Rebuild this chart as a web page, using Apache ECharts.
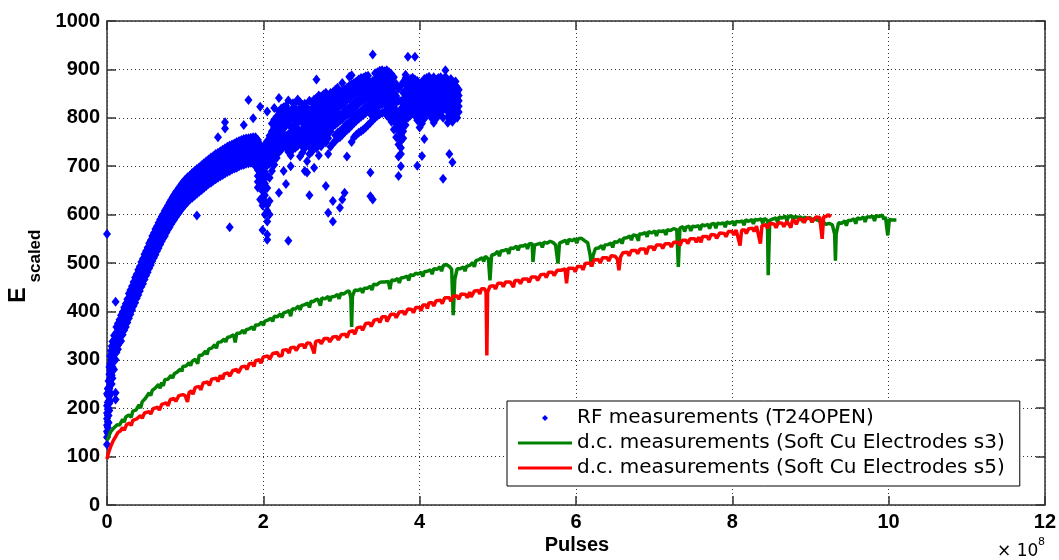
<!DOCTYPE html>
<html>
<head>
<meta charset="utf-8">
<script src="https://cdn.jsdelivr.net/npm/echarts@6/dist/echarts.min.js"></script>
<style>
  html, body { margin: 0; padding: 0; background: #fff; }
  #chart { width: 1059px; height: 560px; }
</style>
</head>
<body>
<div id="chart"></div>
<script>
// pulses are in units of 1e8
const xTicks = [0, 2, 4, 6, 8, 10, 12];
const yTicks = [0, 100, 200, 300, 400, 500, 600, 700, 800, 900, 1000];

const seriesNames = [
    'RF measurements (T24OPEN)',
    'd.c. measurements (Soft Cu Electrodes s3)',
    'd.c. measurements (Soft Cu Electrodes s5)'
];

// RF scatter, read column by column: [pulses, [E values...]]
const rfColumns = [
    [0.00, [125, 140, 152, 165, 178, 190, 205, 230, 560]],
    [0.01, [148, 160, 172, 185, 198, 212, 226, 240]],
    [0.02, [170, 185, 200, 215, 228, 242, 256]],
    [0.03, [195, 210, 225, 240, 255, 270, 285]],
    [0.04, [215, 232, 248, 262, 278, 292, 308]],
    [0.05, [230, 250, 268, 285, 300, 318]],
    [0.06, [250, 268, 290, 310, 328]],
    [0.07, [262, 285, 305, 322, 338]],
    [0.09, [280, 300, 318, 335, 350]],
    [0.11, [218, 232, 300, 318, 336, 352, 420]],
    [0.12, [315, 333, 341, 356, 368]],
    [0.14, [322, 330, 347, 363, 375]],
    [0.16, [336, 349, 357, 371, 383]],
    [0.18, [339, 355, 368, 376, 392]],
    [0.20, [352, 366, 372, 388, 399]],
    [0.22, [361, 370, 384, 397, 408]],
    [0.24, [368, 383, 391, 405, 416]],
    [0.26, [377, 389, 403, 414, 425]],
    [0.28, [386, 398, 409, 421, 437]],
    [0.30, [394, 409, 418, 432, 444]],
    [0.32, [403, 413, 428, 441, 452]],
    [0.34, [411, 425, 434, 449, 461]],
    [0.36, [418, 430, 445, 456, 470]],
    [0.38, [427, 440, 452, 466, 477]],
    [0.40, [434, 449, 461, 472, 486]],
    [0.42, [442, 455, 470, 482, 493]],
    [0.44, [451, 463, 476, 489, 502]],
    [0.46, [457, 472, 485, 497, 509]],
    [0.48, [466, 479, 493, 504, 518]],
    [0.50, [474, 488, 499, 513, 525]],
    [0.52, [481, 494, 508, 521, 532]],
    [0.54, [489, 503, 515, 528, 541]],
    [0.56, [496, 510, 523, 536, 547]],
    [0.58, [504, 516, 531, 543, 556]],
    [0.60, [511, 525, 537, 551, 562]],
    [0.62, [517, 531, 545, 557, 570]],
    [0.64, [525, 538, 551, 565, 576]],
    [0.66, [531, 545, 559, 571, 583]],
    [0.68, [538, 551, 565, 578, 590]],
    [0.70, [545, 558, 572, 584, 585, 596]],
    [0.72, [551, 565, 577, 591, 601]],
    [0.74, [556, 571, 584, 596, 608]],
    [0.76, [563, 576, 590, 602, 613]],
    [0.78, [569, 582, 595, 608, 619]],
    [0.80, [574, 588, 601, 613, 625]],
    [0.82, [580, 593, 606, 619, 630]],
    [0.84, [585, 598, 612, 624, 636]],
    [0.86, [590, 604, 617, 629, 641]],
    [0.88, [595, 609, 622, 634, 646]],
    [0.90, [600, 614, 626, 639, 650]],
    [0.92, [604, 618, 631, 644, 655]],
    [0.94, [609, 623, 636, 648, 659]],
    [0.96, [613, 627, 640, 652, 664]],
    [0.98, [617, 631, 644, 657, 668]],
    [1.00, [621, 635, 648, 661, 672]],
    [1.03, [626, 640, 653, 666, 677]],
    [1.06, [631, 644, 658, 670, 681]],
    [1.09, [635, 649, 662, 674, 686]],
    [1.12, [639, 653, 666, 679, 690]],
    [1.15, [598, 643, 657, 670, 683, 694]],
    [1.18, [647, 661, 674, 687, 698]],
    [1.21, [651, 665, 678, 691, 702]],
    [1.24, [655, 669, 682, 695, 706]],
    [1.27, [659, 673, 686, 699, 710]],
    [1.30, [663, 676, 690, 703, 714]],
    [1.33, [666, 680, 693, 706, 718]],
    [1.36, [670, 683, 697, 710, 721]],
    [1.39, [673, 687, 700, 713, 725]],
    [1.42, [676, 690, 703, 716, 728, 760]],
    [1.45, [679, 693, 706, 719, 731]],
    [1.48, [682, 696, 709, 722, 734]],
    [1.51, [685, 699, 712, 725, 737, 778, 791]],
    [1.54, [688, 701, 715, 728, 740]],
    [1.57, [574, 690, 704, 717, 730, 743]],
    [1.60, [693, 706, 720, 733, 745]],
    [1.63, [695, 709, 722, 735, 747]],
    [1.66, [697, 711, 724, 737, 750]],
    [1.69, [700, 713, 726, 739, 752]],
    [1.72, [702, 715, 728, 741, 754]],
    [1.75, [703, 717, 730, 743, 756, 785]],
    [1.78, [705, 718, 731, 744, 757]],
    [1.81, [706, 720, 733, 746, 758, 837]],
    [1.84, [707, 721, 734, 747, 759]],
    [1.87, [706, 721, 735, 748, 760, 799]],
    [1.90, [700, 712, 724, 736, 748, 760]],
    [1.93, [656, 668, 680, 692, 704, 716, 728, 740, 754]],
    [1.96, [631, 660, 672, 684, 696, 708, 720, 732, 745, 823]],
    [1.99, [568, 619, 636, 648, 660, 672, 684, 696, 708, 720, 735]],
    [2.02, [600, 628, 640, 652, 664, 676, 688, 700, 712, 726, 744]],
    [2.05, [548, 559, 586, 608, 620, 655, 680, 702, 715, 728, 740, 752, 813]],
    [2.08, [600, 628, 676, 705, 716, 728, 740, 752, 763]],
    [2.11, [690, 712, 724, 736, 748, 760, 772, 788]],
    [2.14, [703, 718, 730, 744, 756, 768, 780, 796, 820]],
    [2.17, [717, 730, 742, 754, 766, 778, 790, 802]],
    [2.20, [645, 729, 741, 753, 765, 777, 789, 801, 813, 841]],
    [2.23, [734, 746, 758, 770, 782, 794, 806, 819]],
    [2.26, [690, 742, 754, 766, 778, 793, 808, 822]],
    [2.29, [663, 739, 751, 763, 784, 796, 808, 825]],
    [2.32, [546, 730, 742, 754, 766, 792, 804, 816, 836]],
    [2.35, [700, 722, 745, 757, 769, 781, 800, 812]],
    [2.38, [735, 747, 759, 771, 783, 797, 809, 821, 830]],
    [2.41, [738, 750, 762, 774, 786, 806, 818, 830]],
    [2.44, [742, 754, 766, 778, 790, 802, 814, 838]],
    [2.47, [720, 747, 759, 771, 796, 808, 820, 832]],
    [2.50, [728, 740, 753, 765, 777, 789, 803, 815, 827]],
    [2.53, [690, 737, 749, 761, 773, 786, 798, 810, 829]],
    [2.56, [687, 710, 745, 757, 769, 781, 798, 810, 821]],
    [2.59, [640, 725, 740, 757, 769, 781, 793, 805, 835]],
    [2.62, [730, 742, 754, 766, 779, 791, 806, 818, 832]],
    [2.65, [697, 744, 756, 768, 780, 794, 806, 820, 838]],
    [2.68, [737, 750, 762, 774, 789, 801, 814, 826, 841, 879]],
    [2.71, [722, 750, 762, 774, 786, 799, 811, 828, 846]],
    [2.74, [741, 753, 767, 779, 795, 807, 822, 834, 844]],
    [2.77, [752, 764, 776, 790, 803, 815, 827, 838, 848]],
    [2.80, [659, 749, 761, 781, 793, 809, 821, 834, 852]],
    [2.83, [604, 725, 758, 770, 788, 800, 815, 827, 840]],
    [2.86, [740, 772, 784, 801, 813, 829, 841, 851]],
    [2.89, [586, 628, 747, 782, 794, 810, 822, 838, 853]],
    [2.92, [752, 764, 786, 798, 814, 826, 843, 858]],
    [2.95, [757, 769, 790, 802, 819, 831, 847, 862]],
    [2.98, [614, 760, 772, 794, 806, 824, 836, 852]],
    [3.01, [631, 765, 777, 797, 809, 827, 839, 855, 872]],
    [3.04, [645, 770, 782, 802, 814, 832, 844, 858]],
    [3.07, [720, 775, 787, 806, 818, 836, 848, 862]],
    [3.10, [779, 791, 809, 821, 840, 852, 866, 885]],
    [3.13, [750, 784, 796, 814, 826, 845, 857, 870, 888]],
    [3.16, [760, 789, 801, 819, 831, 849, 861, 872]],
    [3.19, [765, 794, 806, 824, 836, 853, 864, 875]],
    [3.22, [769, 798, 810, 829, 841, 858, 869, 879]],
    [3.25, [772, 802, 814, 833, 845, 861, 872, 882]],
    [3.28, [776, 806, 818, 836, 848, 864, 874, 883]],
    [3.31, [780, 810, 822, 840, 852, 866, 876, 886]],
    [3.34, [785, 814, 826, 843, 855, 868, 878, 887]],
    [3.37, [638, 687, 790, 808, 820, 835, 849, 861, 872]],
    [3.40, [631, 795, 812, 825, 840, 855, 866, 876, 931]],
    [3.43, [800, 817, 829, 845, 858, 869, 879, 892]],
    [3.46, [804, 821, 834, 848, 861, 872, 882, 894]],
    [3.49, [808, 826, 838, 852, 864, 875, 885, 897]],
    [3.52, [810, 828, 840, 854, 866, 877, 887, 898]],
    [3.55, [812, 830, 842, 856, 868, 878, 888, 896]],
    [3.58, [805, 823, 836, 850, 863, 875, 886, 898]],
    [3.61, [800, 818, 830, 845, 857, 870, 882, 894]],
    [3.64, [792, 810, 822, 838, 851, 864, 876, 890]],
    [3.67, [776, 794, 806, 824, 836, 852, 864, 884]],
    [3.70, [760, 778, 790, 803, 815, 832, 845, 870]],
    [3.73, [680, 720, 745, 760, 775, 790, 810, 835, 860]],
    [3.76, [700, 725, 738, 752, 766, 785, 800, 818, 834, 866]],
    [3.79, [758, 772, 790, 806, 822, 838, 852, 874]],
    [3.82, [785, 800, 815, 830, 843, 856, 868, 882, 889]],
    [3.85, [800, 814, 828, 841, 853, 866, 877, 926]],
    [3.88, [805, 819, 834, 847, 859, 870, 880]],
    [3.91, [810, 824, 839, 851, 862, 873, 883]],
    [3.94, [804, 818, 832, 846, 858, 869, 879, 926]],
    [3.97, [701, 795, 810, 826, 840, 853, 865, 876]],
    [4.00, [780, 796, 812, 828, 843, 856, 868]],
    [4.03, [721, 788, 805, 822, 837, 852, 864, 874]],
    [4.06, [756, 798, 814, 830, 845, 858, 870, 880]],
    [4.09, [808, 823, 838, 851, 863, 873, 882]],
    [4.12, [812, 828, 843, 856, 868, 877, 885]],
    [4.15, [800, 815, 830, 844, 857, 869, 879]],
    [4.18, [790, 805, 820, 834, 848, 861, 874, 884]],
    [4.21, [798, 813, 829, 843, 857, 869, 879]],
    [4.24, [806, 822, 837, 851, 864, 874, 882]],
    [4.27, [812, 827, 842, 855, 866, 876, 884]],
    [4.30, [674, 800, 816, 832, 846, 859, 870, 878]],
    [4.33, [818, 833, 848, 860, 871, 880, 885, 898]],
    [4.36, [790, 802, 814, 826, 838, 850, 862, 878]],
    [4.38, [725, 800, 812, 824, 836, 848, 860, 869]],
    [4.40, [796, 807, 818, 830, 843, 855, 866, 880]],
    [4.42, [708, 792, 806, 820, 833, 845, 857, 868]],
    [4.44, [800, 813, 826, 838, 851, 862, 873]],
    [4.46, [805, 818, 830, 843, 855, 866, 875]],
    [4.48, [800, 811, 822, 832, 842, 852, 862]],
    [4.50, [812, 824, 835, 846, 858]]
];

// d.c. soft Cu electrodes s3 (green): [pulses, E]
const s3Points = [
    [0, 133], [0.02, 140], [0.04, 150], [0.06, 151], [0.08, 158], [0.1, 157], [0.13, 166], [0.16, 165],
    [0.2, 177], [0.22, 171], [0.24, 182], [0.28, 186], [0.31, 181], [0.33, 194], [0.37, 196], [0.41, 207],
    [0.43, 200], [0.45, 213], [0.49, 220], [0.54, 232], [0.56, 226], [0.58, 237], [0.62, 242], [0.66, 249],
    [0.68, 241], [0.7, 253], [0.72, 246], [0.74, 259], [0.78, 260], [0.82, 268], [0.84, 262], [0.86, 271],
    [0.9, 275], [0.94, 281], [0.96, 276], [0.97, 286], [1.01, 287], [1.05, 294], [1.07, 288], [1.09, 297],
    [1.13, 301], [1.16, 292], [1.18, 309], [1.22, 310], [1.26, 318], [1.28, 311], [1.3, 322], [1.34, 324],
    [1.38, 331], [1.4, 324], [1.42, 336], [1.46, 337], [1.5, 343], [1.52, 337], [1.54, 346], [1.58, 348],
    [1.62, 352], [1.64, 336], [1.66, 355], [1.7, 355], [1.74, 361], [1.76, 354], [1.78, 362], [1.82, 364],
    [1.86, 368], [1.88, 361], [1.9, 372], [1.94, 372], [1.98, 378], [2.0, 371], [2.02, 380], [2.06, 382],
    [2.1, 386], [2.12, 379], [2.14, 390], [2.18, 389], [2.22, 395], [2.24, 387], [2.26, 397], [2.3, 399],
    [2.33, 402], [2.35, 390], [2.37, 405], [2.41, 405], [2.45, 411], [2.47, 403], [2.49, 412], [2.53, 414],
    [2.57, 417], [2.59, 408], [2.61, 421], [2.64, 420], [2.67, 424], [2.7, 425], [2.73, 412], [2.75, 428],
    [2.79, 426], [2.83, 431], [2.85, 421], [2.87, 430], [2.91, 431], [2.95, 435], [2.97, 426], [2.99, 437],
    [3.03, 436], [3.07, 441], [3.1, 442], [3.12, 428], [3.13, 368], [3.14, 431], [3.17, 444], [3.21, 443],
    [3.25, 447], [3.27, 438], [3.29, 448], [3.33, 448], [3.37, 452], [3.39, 444], [3.41, 456], [3.45, 455],
    [3.49, 460], [3.52, 461], [3.56, 461], [3.6, 462], [3.62, 446], [3.64, 465], [3.68, 464], [3.72, 468],
    [3.74, 459], [3.76, 469], [3.8, 470], [3.84, 473], [3.86, 464], [3.88, 476], [3.92, 474], [3.95, 479],
    [3.98, 477], [4.02, 481], [4.04, 472], [4.06, 482], [4.1, 483], [4.14, 486], [4.16, 477], [4.18, 488],
    [4.22, 487], [4.26, 492], [4.28, 483], [4.3, 494], [4.34, 497], [4.38, 493], [4.41, 487], [4.43, 392],
    [4.45, 466], [4.48, 488], [4.52, 488], [4.56, 492], [4.58, 483], [4.6, 493], [4.64, 495], [4.68, 501],
    [4.7, 492], [4.72, 505], [4.76, 507], [4.8, 511], [4.82, 503], [4.84, 514], [4.88, 508], [4.9, 464],
    [4.92, 516], [4.96, 518], [5.0, 524], [5.02, 514], [5.04, 525], [5.08, 526], [5.12, 528], [5.14, 519],
    [5.16, 531], [5.2, 530], [5.24, 535], [5.26, 526], [5.28, 535], [5.32, 535], [5.36, 538], [5.38, 529],
    [5.4, 540], [5.44, 540], [5.45, 502], [5.47, 537], [5.51, 539], [5.55, 541], [5.57, 532], [5.59, 543],
    [5.63, 541], [5.67, 545], [5.71, 542], [5.74, 537], [5.77, 499], [5.79, 541], [5.83, 544], [5.87, 547],
    [5.89, 538], [5.91, 549], [5.95, 546], [5.99, 550], [6.01, 541], [6.03, 550], [6.07, 551], [6.11, 546],
    [6.15, 542], [6.18, 518], [6.2, 492], [6.22, 516], [6.25, 530], [6.29, 531], [6.33, 536], [6.35, 527],
    [6.37, 537], [6.41, 538], [6.45, 541], [6.47, 532], [6.49, 544], [6.53, 543], [6.57, 549], [6.59, 540],
    [6.61, 551], [6.65, 552], [6.69, 556], [6.71, 547], [6.73, 558], [6.77, 557], [6.8, 546], [6.81, 560],
    [6.85, 560], [6.89, 563], [6.91, 554], [6.93, 565], [6.97, 562], [7.01, 566], [7.03, 556], [7.05, 566],
    [7.09, 565], [7.13, 567], [7.15, 558], [7.17, 569], [7.21, 567], [7.25, 571], [7.29, 569], [7.31, 492],
    [7.33, 572], [7.37, 575], [7.39, 565], [7.41, 574], [7.45, 576], [7.47, 566], [7.49, 576], [7.53, 575],
    [7.57, 577], [7.59, 568], [7.61, 579], [7.65, 577], [7.69, 580], [7.71, 571], [7.73, 580], [7.77, 582],
    [7.79, 572], [7.81, 582], [7.85, 581], [7.89, 583], [7.91, 574], [7.93, 585], [7.97, 582], [8.01, 586],
    [8.03, 577], [8.05, 586], [8.09, 585], [8.13, 587], [8.15, 578], [8.17, 589], [8.21, 586], [8.25, 590],
    [8.27, 581], [8.29, 590], [8.33, 589], [8.37, 591], [8.39, 582], [8.41, 592], [8.45, 588], [8.46, 475],
    [8.48, 588], [8.52, 591], [8.56, 593], [8.58, 584], [8.6, 595], [8.64, 593], [8.68, 597], [8.7, 587],
    [8.72, 596], [8.76, 598], [8.78, 588], [8.8, 596], [8.84, 594], [8.88, 595], [8.9, 585], [8.92, 595],
    [8.96, 592], [9.0, 594], [9.02, 584], [9.04, 592], [9.08, 589], [9.12, 587], [9.14, 577], [9.16, 585],
    [9.2, 580], [9.24, 582], [9.28, 579], [9.31, 560], [9.32, 505], [9.33, 560], [9.36, 583], [9.4, 582],
    [9.44, 587], [9.46, 577], [9.48, 588], [9.52, 588], [9.56, 591], [9.58, 581], [9.6, 593], [9.64, 591],
    [9.68, 595], [9.7, 585], [9.72, 595], [9.76, 595], [9.8, 597], [9.82, 587], [9.84, 598], [9.88, 596],
    [9.92, 599], [9.94, 590], [9.96, 595], [9.99, 557], [10.01, 590], [10.05, 589], [10.1, 589]
];

// d.c. soft Cu electrodes s5 (red): [pulses, E]
const s5Points = [
    [0, 95], [0.01, 102], [0.02, 108], [0.03, 110], [0.05, 122], [0.07, 124], [0.08, 133], [0.11, 141],
    [0.13, 138], [0.14, 150], [0.17, 153], [0.2, 160], [0.22, 154], [0.25, 166], [0.29, 169], [0.31, 164],
    [0.33, 175], [0.38, 178], [0.43, 185], [0.45, 179], [0.48, 190], [0.54, 193], [0.56, 188], [0.59, 199],
    [0.65, 202], [0.67, 196], [0.7, 208], [0.76, 211], [0.78, 205], [0.81, 218], [0.86, 220], [0.88, 214],
    [0.92, 226], [0.97, 228], [1.0, 226], [1.03, 213], [1.05, 232], [1.08, 236], [1.1, 229], [1.13, 243],
    [1.18, 245], [1.2, 238], [1.23, 252], [1.29, 254], [1.31, 247], [1.34, 260], [1.4, 262], [1.42, 255],
    [1.45, 268], [1.48, 260], [1.5, 271], [1.55, 273], [1.57, 266], [1.61, 278], [1.66, 280], [1.68, 273],
    [1.72, 285], [1.77, 287], [1.79, 280], [1.82, 292], [1.86, 293], [1.88, 286], [1.9, 298], [1.95, 300],
    [1.97, 293], [2.0, 306], [2.06, 308], [2.08, 301], [2.12, 313], [2.18, 315], [2.2, 308], [2.24, 309],
    [2.25, 320], [2.3, 321], [2.33, 314], [2.35, 325], [2.4, 326], [2.42, 319], [2.46, 330], [2.51, 331],
    [2.53, 324], [2.56, 335], [2.6, 334], [2.63, 323], [2.65, 313], [2.67, 338], [2.72, 340], [2.74, 333],
    [2.78, 344], [2.83, 344], [2.85, 337], [2.89, 347], [2.94, 348], [2.96, 341], [3.0, 352], [3.05, 353],
    [3.07, 346], [3.1, 358], [3.15, 360], [3.17, 353], [3.2, 366], [3.25, 368], [3.27, 361], [3.31, 375],
    [3.36, 376], [3.38, 369], [3.42, 382], [3.47, 384], [3.49, 377], [3.52, 389], [3.57, 389], [3.58, 379],
    [3.63, 394], [3.68, 394], [3.7, 387], [3.74, 399], [3.79, 400], [3.81, 393], [3.85, 405], [3.9, 404],
    [3.92, 397], [3.95, 408], [4.0, 408], [4.02, 401], [4.04, 413], [4.08, 413], [4.1, 406], [4.12, 418],
    [4.16, 418], [4.18, 411], [4.21, 422], [4.27, 423], [4.29, 416], [4.32, 428], [4.38, 428], [4.4, 421],
    [4.43, 432], [4.48, 432], [4.5, 425], [4.53, 436], [4.59, 435], [4.61, 428], [4.64, 440], [4.66, 430],
    [4.7, 442], [4.75, 443], [4.77, 436], [4.79, 447], [4.83, 447], [4.85, 440], [4.86, 309], [4.87, 440],
    [4.9, 452], [4.95, 453], [4.97, 446], [5.0, 458], [5.05, 458], [5.07, 451], [5.1, 461], [5.16, 461],
    [5.2, 450], [5.22, 464], [5.27, 464], [5.29, 457], [5.32, 467], [5.38, 467], [5.4, 460], [5.43, 471],
    [5.49, 471], [5.51, 464], [5.55, 476], [5.6, 477], [5.62, 470], [5.65, 481], [5.7, 481], [5.72, 474],
    [5.76, 485], [5.81, 485], [5.86, 488], [5.88, 458], [5.9, 489], [5.97, 489], [5.99, 482], [6.02, 493],
    [6.07, 493], [6.09, 486], [6.12, 499], [6.18, 500], [6.2, 493], [6.23, 506], [6.29, 507], [6.31, 500],
    [6.34, 511], [6.4, 511], [6.42, 504], [6.45, 515], [6.5, 514], [6.53, 508], [6.55, 485], [6.57, 512],
    [6.6, 521], [6.66, 522], [6.68, 515], [6.71, 526], [6.77, 526], [6.79, 519], [6.82, 529], [6.88, 529],
    [6.9, 518], [6.93, 533], [6.98, 533], [7.0, 526], [7.03, 537], [7.09, 537], [7.11, 530], [7.14, 540],
    [7.2, 540], [7.22, 533], [7.25, 543], [7.31, 543], [7.33, 536], [7.36, 547], [7.41, 547], [7.43, 540],
    [7.46, 550], [7.52, 550], [7.54, 543], [7.57, 553], [7.6, 543], [7.62, 555], [7.68, 555], [7.7, 548],
    [7.73, 559], [7.78, 558], [7.8, 551], [7.84, 562], [7.9, 561], [7.92, 554], [7.95, 565], [8.0, 565],
    [8.02, 558], [8.05, 568], [8.1, 536], [8.12, 568], [8.16, 568], [8.18, 561], [8.21, 571], [8.26, 572],
    [8.28, 565], [8.31, 576], [8.36, 540], [8.38, 577], [8.43, 579], [8.45, 572], [8.48, 582], [8.54, 580],
    [8.56, 573], [8.59, 583], [8.64, 582], [8.66, 575], [8.7, 586], [8.75, 573], [8.77, 588], [8.8, 587],
    [8.82, 580], [8.85, 591], [8.9, 590], [8.92, 583], [8.95, 593], [9.0, 592], [9.02, 585], [9.07, 595],
    [9.12, 594], [9.15, 550], [9.17, 596], [9.2, 596], [9.23, 600], [9.26, 595]
];

const rfPoints = rfColumns.flatMap(col => col[1].map(v => [col[0], v]));

const chart = echarts.init(document.getElementById('chart'));

const tickFont = {
    color: '#000',
    fontFamily: 'Liberation Sans, Arial, sans-serif',
    fontWeight: 'bold',
    fontSize: 20,
    formatter: value => String(value)
};
const frameLine = { show: true, onZero: false, lineStyle: { color: '#333', width: 1.5 } };
const frameTick = { show: true, inside: true, length: 9, lineStyle: { color: '#333', width: 1.5 } };
const dotGrid = { show: true, lineStyle: { color: '#333', type: [1, 3], width: 1 } };

const option = {
    backgroundColor: '#fff',
    animation: false,
    grid: { left: 107, right: 12, top: 21, bottom: 55, containLabel: false },
    xAxis: [
        {
            type: 'value',
            min: xTicks[0],
            max: xTicks[xTicks.length - 1],
            interval: 2,
            axisLine: frameLine,
            axisTick: frameTick,
            axisLabel: Object.assign({ margin: 7 }, tickFont),
            splitLine: dotGrid
        },
        {
            type: 'value',
            position: 'top',
            min: xTicks[0],
            max: xTicks[xTicks.length - 1],
            interval: 2,
            axisLine: frameLine,
            axisTick: frameTick,
            axisLabel: { show: false },
            splitLine: { show: false }
        }
    ],
    yAxis: [
        {
            type: 'value',
            min: yTicks[0],
            max: yTicks[yTicks.length - 1],
            interval: 100,
            axisLine: frameLine,
            axisTick: frameTick,
            axisLabel: Object.assign({ margin: 7 }, tickFont),
            splitLine: dotGrid
        },
        {
            type: 'value',
            position: 'right',
            min: yTicks[0],
            max: yTicks[yTicks.length - 1],
            interval: 100,
            axisLine: frameLine,
            axisTick: frameTick,
            axisLabel: { show: false },
            splitLine: { show: false }
        }
    ],
    legend: {
        orient: 'vertical',
        left: 507,
        top: 401,
        backgroundColor: '#fff',
        borderColor: '#000',
        borderWidth: 1,
        padding: [7, 15, 8, 11],
        itemGap: 5,
        itemWidth: 54,
        itemHeight: 6,
        selectedMode: false,
        textStyle: { color: '#000', fontFamily: 'DejaVu Sans', fontSize: 20 },
        data: [
            { name: seriesNames[0], icon: 'path://M0,-1L1,0L0,1L-1,0Z' },
            { name: seriesNames[1], icon: 'path://M0,0L54,0L54,3L0,3Z' },
            { name: seriesNames[2], icon: 'path://M0,0L54,0L54,3L0,3Z' }
        ]
    },
    graphic: [
        {
            type: 'text', x: 577, y: 545,
            style: { text: 'Pulses', fill: '#000', font: 'bold 20px "Liberation Sans", Arial', textAlign: 'center', textVerticalAlign: 'middle' }
        },
        {
            type: 'text', x: 19, y: 295, rotation: Math.PI / 2,
            style: { text: 'E', fill: '#000', font: 'bold 23px "Liberation Sans", Arial', textAlign: 'center', textVerticalAlign: 'middle' }
        },
        {
            type: 'text', x: 35, y: 256, rotation: Math.PI / 2,
            style: { text: 'scaled', fill: '#000', font: 'bold 17px "Liberation Sans", Arial', textAlign: 'center', textVerticalAlign: 'middle' }
        },
        {
            type: 'text', x: 997, y: 552,
            style: { text: '\u00d7 10', fill: '#000', font: '17px "DejaVu Sans"', textAlign: 'left', textVerticalAlign: 'middle' }
        },
        {
            type: 'text', x: 1038, y: 542,
            style: { text: '8', fill: '#000', font: '11px "DejaVu Sans"', textAlign: 'left', textVerticalAlign: 'middle' }
        }
    ],
    series: [
        {
            name: seriesNames[0],
            type: 'scatter',
            symbol: 'diamond',
            symbolSize: [8, 10],
            itemStyle: { color: '#0000ff', opacity: 1 },
            data: rfPoints
        },
        {
            name: seriesNames[1],
            type: 'line',
            showSymbol: false,
            symbol: 'none',
            lineStyle: { color: '#008000', width: 3.5 },
            itemStyle: { color: '#008000' },
            data: s3Points
        },
        {
            name: seriesNames[2],
            type: 'line',
            showSymbol: false,
            symbol: 'none',
            lineStyle: { color: '#ff0000', width: 3.5 },
            itemStyle: { color: '#ff0000' },
            data: s5Points
        }
    ]
};

chart.setOption(option);
</script>
</body>
</html>
